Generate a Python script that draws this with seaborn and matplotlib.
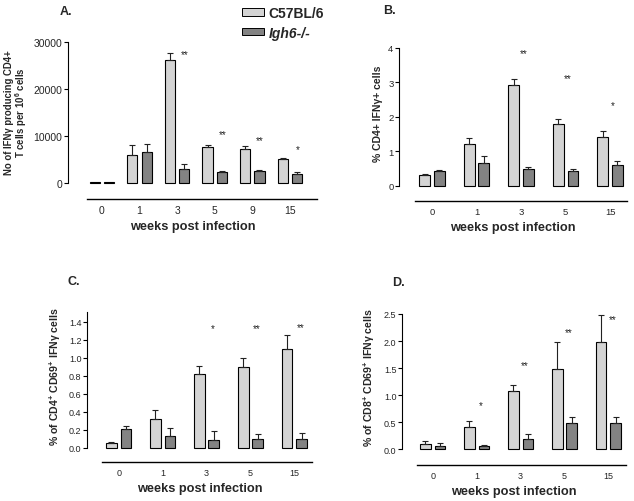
import pandas as pd
import seaborn as sns
import matplotlib
matplotlib.use('Agg')
import matplotlib.pyplot as plt
from matplotlib.patches import Patch

# dados
strains = ['C57BL/6', 'Igh6-/-']

a_weeks = ['0', '1', '3', '5', '9', '15']
a_c57 = [150, 6000, 26100, 7700, 7270, 5150]
a_c57_err = [0, 2100, 1600, 300, 560, 150]
a_igh = [150, 6560, 2900, 2260, 2610, 1830]
a_igh_err = [0, 1700, 1050, 280, 150, 570]
a_stars = ['', '', '**', '**', '**', '*']
a_star_y = [0, 0, 27400, 10440, 9030, 7270]

b_weeks = ['0', '1', '3', '5', '15']
b_c57 = [0.31, 1.23, 2.94, 1.81, 1.41]
b_c57_err = [0.03, 0.16, 0.17, 0.13, 0.19]
b_igh = [0.425, 0.68, 0.48, 0.44, 0.62]
b_igh_err = [0.04, 0.19, 0.07, 0.06, 0.10]
b_stars = ['', '', '**', '**', '*']
b_star_y = [0, 0, 3.84, 3.13, 2.34]

c_weeks = ['0', '1', '3', '5', '15']
c_c57 = [0.055, 0.324, 0.82, 0.90, 1.105]
c_c57_err = [0.011, 0.096, 0.095, 0.10, 0.155]
c_igh = [0.21, 0.129, 0.092, 0.103, 0.103]
c_igh_err = [0.033, 0.092, 0.096, 0.052, 0.059]
c_stars = ['', '', '*', '**', '**']
c_star_y = [0, 0, 1.33, 1.33, 1.345]

d_weeks = ['0', '1', '3', '5', '15']
d_c57 = [0.09, 0.41, 1.08, 1.49, 1.99]
d_c57_err = [0.05, 0.10, 0.10, 0.50, 0.50]
d_igh = [0.05, 0.055, 0.18, 0.49, 0.48]
d_igh_err = [0.055, 0.025, 0.10, 0.10, 0.11]
d_stars = ['', '*', '**', '**', '**']
d_star_y = [0, 0.82, 1.56, 2.17, 2.40]

cores = ['#d4d4d4', '#838383']

sns.set_style('white')
plt.rcParams['font.family'] = ['Liberation Sans', 'DejaVu Sans']
plt.rcParams['mathtext.fontset'] = 'custom'
plt.rcParams['mathtext.rm'] = 'Liberation Sans'
plt.rcParams['mathtext.bf'] = 'Liberation Sans:bold'

W, H = 634, 502
fig = plt.figure(figsize=(W / 100, H / 100), dpi=100)
fig.patch.set_facecolor('white')


def eixo_px(left, top, right, bottom):
	return fig.add_axes([left / W, 1 - bottom / H, (right - left) / W, (bottom - top) / H])


def painel(ax, weeks, c57, c57_err, igh, igh_err, stars, star_y, cfg):
	df = pd.DataFrame({
		'week': weeks + weeks,
		'strain': [strains[0]] * len(weeks) + [strains[1]] * len(weeks),
		'valor': c57 + igh,
	})
	sns.barplot(data=df, x='week', y='valor', hue='strain', order=weeks, hue_order=strains,
		palette=cores, width=cfg['width'], gap=cfg['gap'], edgecolor='black', linewidth=0.8,
		errorbar=None, legend=False, ax=ax)

	# barras de erro so para cima
	for cont, errs in zip(ax.containers, [c57_err, igh_err]):
		for bar, e in zip(cont, errs):
			if e <= 0:
				continue
			x = bar.get_x() + bar.get_width() / 2
			ax.errorbar(x, bar.get_height(), yerr=[[0], [e]], fmt='none', ecolor='#222222',
				elinewidth=0.8, capsize=2.3, capthick=0.8, zorder=1)

	for i, (s, y) in enumerate(zip(stars, star_y)):
		if s:
			ax.text(i + cfg['star_dx'], y, s, ha='center', va='center', fontsize=7, color='#222222')

	ax.set_xlim(cfg['xlim'])
	ax.set_ylim(cfg['ylim'])
	ax.set_yticks(cfg['yticks'])
	ax.set_yticklabels(cfg['yticklabels'])
	for spine in ['top', 'right']:
		ax.spines[spine].set_visible(False)
	ax.spines['left'].set_bounds(0, cfg['ytop'])
	ax.spines['bottom'].set_bounds(cfg['xline'], cfg['xlim'][1])
	ax.spines['left'].set_linewidth(0.8)
	ax.spines['bottom'].set_linewidth(1.0)
	ax.spines['left'].set_color('black')
	ax.spines['bottom'].set_color('black')
	ax.tick_params(axis='y', length=3, width=0.8, pad=1, labelsize=cfg['fs'], left=True, color='black')
	ax.tick_params(axis='x', length=0, pad=4, labelsize=cfg['fs'])
	ax.set_xlabel('weeks post infection', fontsize=9.2, fontweight='bold', labelpad=4)
	ax.set_ylabel(cfg['ylabel'], fontsize=cfg['yfs'], fontweight='bold', linespacing=1.0)
	ax.yaxis.label.set_verticalalignment('center')
	ax.yaxis.set_label_coords(*cfg['ylab_pos'])
	ax.set_facecolor('none')


# A
axA = eixo_px(68, 43, 317, 200)
painel(axA, a_weeks, a_c57, a_c57_err, a_igh, a_igh_err, a_stars, a_star_y, {
	'width': 0.76, 'gap': 0.29, 'star_dx': 0.2, 'xlim': (-0.9, 5.72), 'xline': -0.4,
	'ylim': (-3404, 30000), 'ytop': 30000, 'yticks': [0, 10000, 20000, 30000],
	'yticklabels': ['0', '10000', '20000', '30000'], 'fs': 7.5, 'yfs': 6.9,
	'ylabel': 'No of IFN\u03b3 producing CD4+\nT cells per 10$^{\\mathbf{6}}$ cells',
	'ylab_pos': ((16.5 - 68) / 249, 0.554)})

# B
axB = eixo_px(399, 49, 627, 202)
painel(axB, b_weeks, b_c57, b_c57_err, b_igh, b_igh_err, b_stars, b_star_y, {
	'width': 0.66, 'gap': 0.27, 'star_dx': 0.05, 'xlim': (-0.74, 4.38), 'xline': -0.38,
	'ylim': (-0.435, 4.0), 'ytop': 4, 'yticks': [0, 1, 2, 3, 4],
	'yticklabels': ['0', '1', '2', '3', '4'], 'fs': 6.8, 'yfs': 7.5,
	'ylabel': '% CD4+ IFN\u03b3+ cells',
	'ylab_pos': ((378 - 399) / 228, 0.575)})

# C
axC = eixo_px(87, 313, 312, 463)
painel(axC, c_weeks, c_c57, c_c57_err, c_igh, c_igh_err, c_stars, c_star_y, {
	'width': 0.66, 'gap': 0.27, 'star_dx': 0.14, 'xlim': (-0.72, 4.4), 'xline': -0.375,
	'ylim': (-0.156, 1.511), 'ytop': 1.511, 'yticks': [0, 0.2, 0.4, 0.6, 0.8, 1.0, 1.2, 1.4],
	'yticklabels': ['0.0', '0.2', '0.4', '0.6', '0.8', '1.0', '1.2', '1.4'], 'fs': 6.5, 'yfs': 7.6,
	'ylabel': '% of CD4$^{\\mathbf{+}}$ CD69$^{\\mathbf{+}}$ IFN\u03b3 cells',
	'ylab_pos': ((55 - 87) / 225, 0.573)})

# D
axD = eixo_px(402, 315, 626, 466)
painel(axD, d_weeks, d_c57, d_c57_err, d_igh, d_igh_err, d_stars, d_star_y, {
	'width': 0.66, 'gap': 0.27, 'star_dx': 0.1, 'xlim': (-0.7, 4.4), 'xline': -0.36,
	'ylim': (-0.296, 2.5), 'ytop': 2.5, 'yticks': [0, 0.5, 1.0, 1.5, 2.0, 2.5],
	'yticklabels': ['0.0', '0.5', '1.0', '1.5', '2.0', '2.5'], 'fs': 6.5, 'yfs': 7.6,
	'ylabel': '% of CD8$^{\\mathbf{+}}$ CD69$^{\\mathbf{+}}$ IFN\u03b3 cells',
	'ylab_pos': ((369 - 402) / 224, 0.583)})

# letras dos paineis
for letra, x, y in [('A.', 60, 12), ('B.', 383, 11), ('C.', 67, 282), ('D.', 392, 283)]:
	fig.text(x / W, 1 - y / H, letra, fontsize=9, fontweight='bold', ha='left', va='center')

# legenda
handles = [Patch(facecolor=c, edgecolor='black', linewidth=0.7) for c in cores]
leg = fig.legend(handles, strains, loc='upper left', bbox_to_anchor=(242 / W, 1 - 7 / H),
	frameon=False, borderpad=0, borderaxespad=0, handlelength=1.6, handleheight=0.45,
	handletextpad=0.3, labelspacing=0.4, prop={'size': 10, 'weight': 'bold'})
leg.get_texts()[1].set_style('italic')

fig.savefig('out.png', dpi=100, facecolor='white')
